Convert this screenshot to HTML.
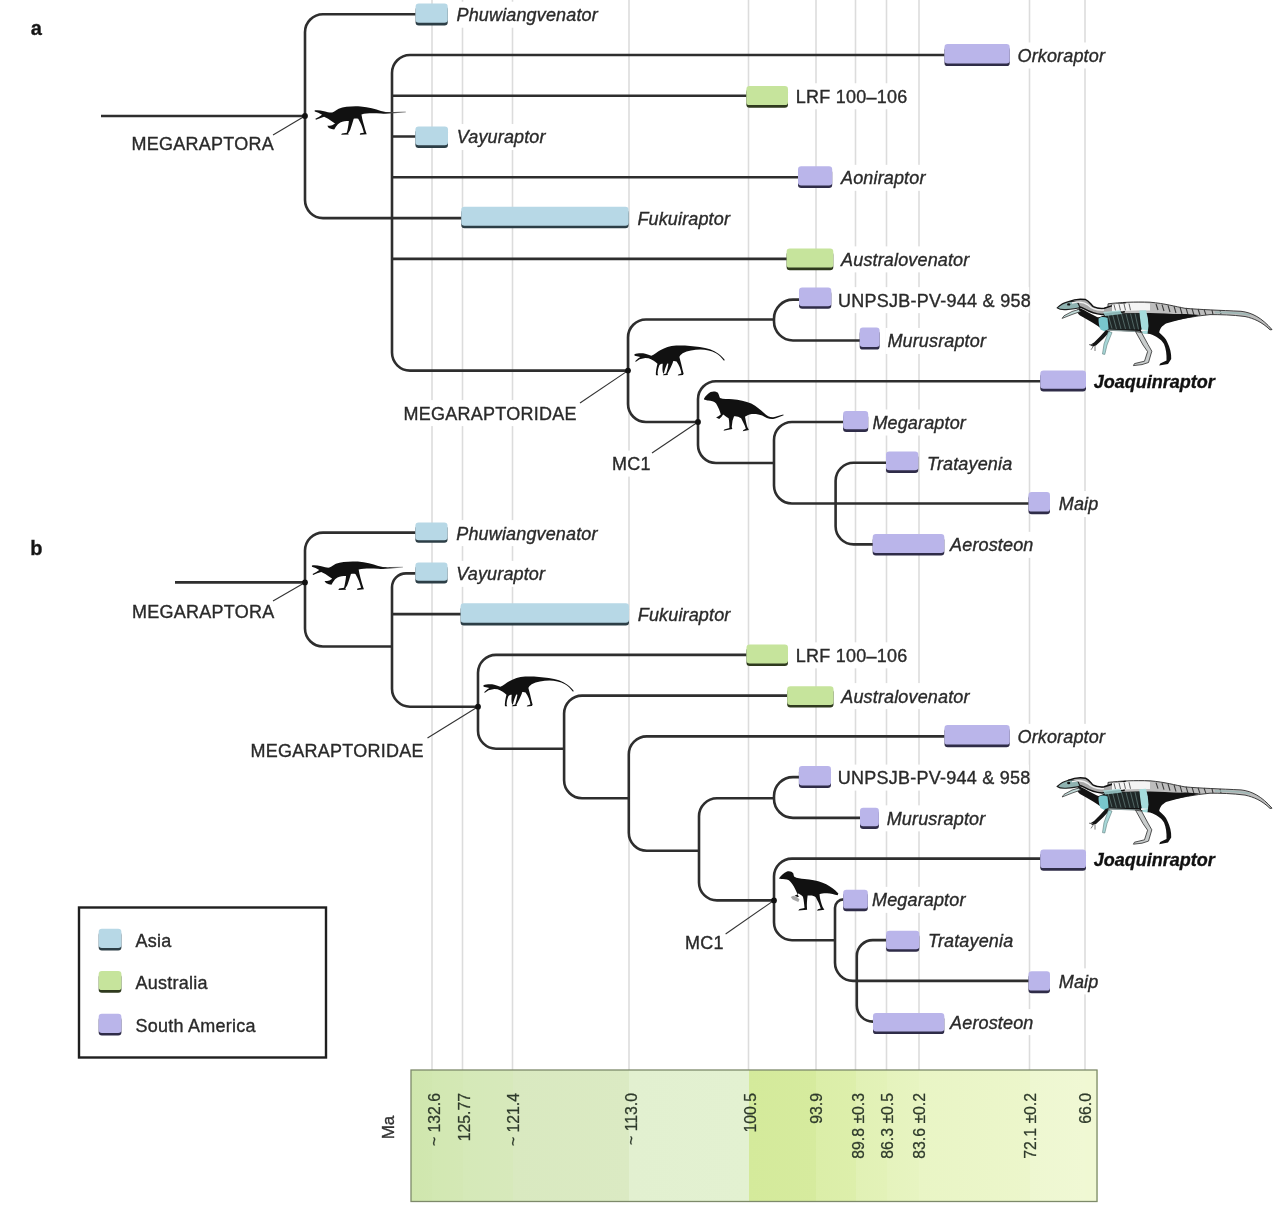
<!DOCTYPE html>
<html lang="en"><head><meta charset="utf-8"><title>Megaraptora phylogeny</title>
<style>html,body{margin:0;padding:0;background:#fff;}body{width:1280px;height:1230px;overflow:hidden;}svg{display:block;filter:blur(0.5px);}text{font-family:"Liberation Sans",Arial,Helvetica,sans-serif;font-size:18px;fill:#2a2a2a;stroke:#2a2a2a;stroke-width:0.35px;}.i{font-style:italic;letter-spacing:0.15px;}.r{letter-spacing:0.25px;}.b{font-style:italic;font-weight:bold;fill:#111;stroke:#111;}.t{font-size:15.8px;fill:#2e3a2b;stroke:#2e3a2b;stroke-width:0.25px;letter-spacing:0;}</style></head><body>
<svg width="1280" height="1230" viewBox="0 0 1280 1230">
<rect width="1280" height="1230" fill="#fff"/>
<line x1="432" y1="0" x2="432" y2="1070" stroke="#dcdcdc" stroke-width="1.6"/>
<line x1="462.5" y1="0" x2="462.5" y2="1070" stroke="#dcdcdc" stroke-width="1.6"/>
<line x1="512.5" y1="0" x2="512.5" y2="1070" stroke="#dcdcdc" stroke-width="1.6"/>
<line x1="629" y1="0" x2="629" y2="1070" stroke="#dcdcdc" stroke-width="1.6"/>
<line x1="748.5" y1="0" x2="748.5" y2="1070" stroke="#dcdcdc" stroke-width="1.6"/>
<line x1="816" y1="0" x2="816" y2="1070" stroke="#dcdcdc" stroke-width="1.6"/>
<line x1="855.5" y1="0" x2="855.5" y2="1070" stroke="#dcdcdc" stroke-width="1.6"/>
<line x1="886.5" y1="0" x2="886.5" y2="1070" stroke="#dcdcdc" stroke-width="1.6"/>
<line x1="919" y1="0" x2="919" y2="1070" stroke="#dcdcdc" stroke-width="1.6"/>
<line x1="1029.5" y1="0" x2="1029.5" y2="1070" stroke="#dcdcdc" stroke-width="1.6"/>
<line x1="1085" y1="0" x2="1085" y2="1070" stroke="#dcdcdc" stroke-width="1.6"/>
<rect x="129.5" y="130.6" width="144.67" height="26" fill="#fff"/>
<rect x="401.5" y="400.1" width="174.67" height="26" fill="#fff"/>
<rect x="610" y="450.6" width="43.02" height="26" fill="#fff"/>
<rect x="454.5" y="1.7" width="144.14" height="26" fill="#fff"/>
<rect x="1015.5" y="42.48" width="91.06" height="26" fill="#fff"/>
<rect x="793.8" y="83.26" width="114.12" height="26" fill="#fff"/>
<rect x="454.8" y="124.04" width="92.41" height="26" fill="#fff"/>
<rect x="839" y="164.82" width="88.08" height="26" fill="#fff"/>
<rect x="635.4" y="205.6" width="96.08" height="26" fill="#fff"/>
<rect x="839.1" y="246.38" width="131.11" height="26" fill="#fff"/>
<rect x="836.1" y="287.16" width="193.09" height="26" fill="#fff"/>
<rect x="885.4" y="327.94" width="102.08" height="26" fill="#fff"/>
<rect x="1091.8" y="368.72" width="126.05" height="26" fill="#fff"/>
<rect x="870.4" y="409.5" width="97.09" height="26" fill="#fff"/>
<rect x="925.1" y="450.28" width="88.75" height="26" fill="#fff"/>
<rect x="1056.8" y="491.06" width="44.03" height="26" fill="#fff"/>
<rect x="948.1" y="531.84" width="87.08" height="26" fill="#fff"/>
<rect x="130" y="598.6" width="144.67" height="26" fill="#fff"/>
<rect x="248.5" y="737.6" width="174.67" height="26" fill="#fff"/>
<rect x="683" y="929.3" width="43.02" height="26" fill="#fff"/>
<rect x="454.3" y="520.1" width="144.14" height="26" fill="#fff"/>
<rect x="454.3" y="560.85" width="92.41" height="26" fill="#fff"/>
<rect x="635.8" y="601.6" width="96.08" height="26" fill="#fff"/>
<rect x="793.8" y="642.35" width="114.12" height="26" fill="#fff"/>
<rect x="839.3" y="683.1" width="131.11" height="26" fill="#fff"/>
<rect x="1015.5" y="723.85" width="91.06" height="26" fill="#fff"/>
<rect x="835.8" y="764.6" width="193.09" height="26" fill="#fff"/>
<rect x="884.7" y="805.35" width="102.08" height="26" fill="#fff"/>
<rect x="1091.8" y="846.1" width="126.05" height="26" fill="#fff"/>
<rect x="870" y="886.85" width="97.09" height="26" fill="#fff"/>
<rect x="926.1" y="927.6" width="88.75" height="26" fill="#fff"/>
<rect x="1056.8" y="968.35" width="44.03" height="26" fill="#fff"/>
<rect x="948.1" y="1009.1" width="87.08" height="26" fill="#fff"/>
<defs>
<linearGradient id="g0" x1="0" x2="1" y1="0" y2="0"><stop offset="0" stop-color="#cfe6ad"/><stop offset="1" stop-color="#d1e7b0"/></linearGradient>
<linearGradient id="g1" x1="0" x2="1" y1="0" y2="0"><stop offset="0" stop-color="#d2e8b2"/><stop offset="1" stop-color="#d4e8b5"/></linearGradient>
<linearGradient id="g2" x1="0" x2="1" y1="0" y2="0"><stop offset="0" stop-color="#d5e9b8"/><stop offset="1" stop-color="#d7e9bb"/></linearGradient>
<linearGradient id="g3" x1="0" x2="1" y1="0" y2="0"><stop offset="0" stop-color="#d9e9c0"/><stop offset="1" stop-color="#dbeac3"/></linearGradient>
<linearGradient id="g4" x1="0" x2="1" y1="0" y2="0"><stop offset="0" stop-color="#e2f0d0"/><stop offset="1" stop-color="#e3f1d1"/></linearGradient>
<linearGradient id="g5" x1="0" x2="1" y1="0" y2="0"><stop offset="0" stop-color="#d4ea9b"/><stop offset="1" stop-color="#d6eb9e"/></linearGradient>
<linearGradient id="g6" x1="0" x2="1" y1="0" y2="0"><stop offset="0" stop-color="#dbeea8"/><stop offset="1" stop-color="#ddefab"/></linearGradient>
<linearGradient id="g7" x1="0" x2="1" y1="0" y2="0"><stop offset="0" stop-color="#e1f1b5"/><stop offset="1" stop-color="#e3f2b8"/></linearGradient>
<linearGradient id="g8" x1="0" x2="1" y1="0" y2="0"><stop offset="0" stop-color="#e5f3bd"/><stop offset="1" stop-color="#e7f4c1"/></linearGradient>
<linearGradient id="g9" x1="0" x2="1" y1="0" y2="0"><stop offset="0" stop-color="#e9f5c5"/><stop offset="1" stop-color="#ecf6cb"/></linearGradient>
<linearGradient id="g10" x1="0" x2="1" y1="0" y2="0"><stop offset="0" stop-color="#eef7d1"/><stop offset="1" stop-color="#f0f8d4"/></linearGradient>
<linearGradient id="g11" x1="0" x2="1" y1="0" y2="0"><stop offset="0" stop-color="#f0f8d3"/><stop offset="1" stop-color="#f0f8d3"/></linearGradient>
</defs>
<rect x="411" y="1070" width="21.6" height="131.5" fill="url(#g0)" shape-rendering="crispEdges"/>
<rect x="432" y="1070" width="31.1" height="131.5" fill="url(#g1)" shape-rendering="crispEdges"/>
<rect x="462.5" y="1070" width="50.6" height="131.5" fill="url(#g2)" shape-rendering="crispEdges"/>
<rect x="512.5" y="1070" width="117.1" height="131.5" fill="url(#g3)" shape-rendering="crispEdges"/>
<rect x="629" y="1070" width="120.1" height="131.5" fill="url(#g4)" shape-rendering="crispEdges"/>
<rect x="748.5" y="1070" width="68.1" height="131.5" fill="url(#g5)" shape-rendering="crispEdges"/>
<rect x="816" y="1070" width="40.1" height="131.5" fill="url(#g6)" shape-rendering="crispEdges"/>
<rect x="855.5" y="1070" width="31.6" height="131.5" fill="url(#g7)" shape-rendering="crispEdges"/>
<rect x="886.5" y="1070" width="33.1" height="131.5" fill="url(#g8)" shape-rendering="crispEdges"/>
<rect x="919" y="1070" width="111.1" height="131.5" fill="url(#g9)" shape-rendering="crispEdges"/>
<rect x="1029.5" y="1070" width="56.1" height="131.5" fill="url(#g10)" shape-rendering="crispEdges"/>
<rect x="1085" y="1070" width="12.6" height="131.5" fill="url(#g11)" shape-rendering="crispEdges"/>
<rect x="411" y="1070" width="686" height="131.5" fill="none" stroke="#7d8a6a" stroke-width="1.3"/>
<text class="t" text-anchor="end" transform="translate(440.2,1093) rotate(-90) scale(1,1.06)">~ 132.6</text>
<text class="t" text-anchor="end" transform="translate(469.7,1093) rotate(-90) scale(1,1.06)">125.77</text>
<text class="t" text-anchor="end" transform="translate(519.3,1093) rotate(-90) scale(1,1.06)">~ 121.4</text>
<text class="t" text-anchor="end" transform="translate(636.7,1093) rotate(-90) scale(1,1.06)">~ 113.0</text>
<text class="t" text-anchor="end" transform="translate(755.7,1093) rotate(-90) scale(1,1.06)">100.5</text>
<text class="t" text-anchor="end" transform="translate(822.2,1093) rotate(-90) scale(1,1.06)">93.9</text>
<text class="t" text-anchor="end" transform="translate(863.7,1093) rotate(-90) scale(1,1.06)">89.8 ±0.3</text>
<text class="t" text-anchor="end" transform="translate(892.7,1093) rotate(-90) scale(1,1.06)">86.3 ±0.5</text>
<text class="t" text-anchor="end" transform="translate(925.2,1093) rotate(-90) scale(1,1.06)">83.6 ±0.2</text>
<text class="t" text-anchor="end" transform="translate(1035.7,1093) rotate(-90) scale(1,1.06)">72.1 ±0.2</text>
<text class="t" text-anchor="end" transform="translate(1091.2,1093) rotate(-90) scale(1,1.06)">66.0</text>
<text text-anchor="middle" style="font-size:17px;fill:#333" transform="translate(394,1127.5) rotate(-90)">Ma</text>
<rect x="79" y="907.5" width="247" height="150" fill="#fff" stroke="#1f1f1f" stroke-width="2.4"/>
<path d="M101,116 H305 M415.5,14.2 H323 A18,18 0 0 0 305,32.2 V200.1 A18,18 0 0 0 323,218.1 H461.5 M944.5,54.98 H410 A18,18 0 0 0 392,72.98 V352.6 A18,18 0 0 0 410,370.6 H628 M392,95.76 H746.5 M392,136.54 H415.5 M392,177.32 H798 M392,258.88 H787 M774,319.5 H646 A18,18 0 0 0 628,337.5 V404 A18,18 0 0 0 646,422 H698 M799,299.66 H793 A19,19 0 0 0 774,318.66 V321.44 A19,19 0 0 0 793,340.44 H860 M1040.5,381.22 H716 A18,18 0 0 0 698,399.22 V445 A18,18 0 0 0 716,463 H774 M843,422 H792 A18,18 0 0 0 774,440 V485.56 A18,18 0 0 0 792,503.56 H1029 M887,462.78 H853.6 A18,18 0 0 0 835.6,480.78 V526.34 A18,18 0 0 0 853.6,544.34 H873.5 M175,582.4 H305 M415.5,532.6 H323 A18,18 0 0 0 305,550.6 V628.5 A18,18 0 0 0 323,646.5 H392 M415.5,573.35 H406 A14,14 0 0 0 392,587.35 V688.7 A18,18 0 0 0 410,706.7 H478 M392,614.1 H461.5 M746.5,654.85 H496 A18,18 0 0 0 478,672.85 V730.7 A18,18 0 0 0 496,748.7 H564 M787,695.6 H582.1 A18,18 0 0 0 564.1,713.6 V780.3 A18,18 0 0 0 582.1,798.3 H628.8 M944.5,736.35 H646.8 A18,18 0 0 0 628.8,754.35 V832.8 A18,18 0 0 0 646.8,850.8 H699 M774,798.3 H717 A18,18 0 0 0 699,816.3 V882.4 A18,18 0 0 0 717,900.4 H774 M799,777.1 H793 A19,19 0 0 0 774,796.1 V798.85 A19,19 0 0 0 793,817.85 H860 M1040.5,858.6 H792 A18,18 0 0 0 774,876.6 V922.2 A18,18 0 0 0 792,940.2 H835 M844,899.35 H843.5 A8.5,8.5 0 0 0 835,907.85 V962.85 A18,18 0 0 0 853,980.85 H1029 M887,940.1 H872.8 A16,16 0 0 0 856.8,956.1 V1005.6 A16,16 0 0 0 872.8,1021.6 H873.5" fill="none" stroke="#2e2e2e" stroke-width="2.6" stroke-linecap="butt"/>
<line x1="273" y1="135" x2="305" y2="116" stroke="#333" stroke-width="1.1"/>
<line x1="580" y1="403" x2="628" y2="370.6" stroke="#333" stroke-width="1.1"/>
<line x1="652" y1="453" x2="698" y2="422" stroke="#333" stroke-width="1.1"/>
<line x1="273" y1="601" x2="305" y2="582.4" stroke="#333" stroke-width="1.1"/>
<line x1="427.5" y1="738" x2="478" y2="706.7" stroke="#333" stroke-width="1.1"/>
<line x1="725.6" y1="934" x2="774" y2="900.4" stroke="#333" stroke-width="1.1"/>
<circle cx="305" cy="116" r="2.9" fill="#111"/>
<circle cx="628" cy="370.6" r="2.9" fill="#111"/>
<circle cx="698" cy="422" r="2.9" fill="#111"/>
<circle cx="305" cy="582.4" r="2.9" fill="#111"/>
<circle cx="478" cy="706.7" r="2.9" fill="#111"/>
<circle cx="774" cy="900.4" r="2.9" fill="#111"/>
<rect x="415.6" y="6.5" width="32.1" height="18.9" rx="3.2" fill="#2c3e46"/>
<rect x="415.6" y="3.5" width="32.1" height="19.3" rx="3.2" fill="#b7d8e6"/>
<rect x="944.5" y="47.1" width="65.2" height="19" rx="3.2" fill="#2f2c48"/>
<rect x="944.5" y="44.1" width="65.2" height="19.4" rx="3.2" fill="#bab5ea"/>
<rect x="746.4" y="89.1" width="41.6" height="18.6" rx="3.2" fill="#2f3a1e"/>
<rect x="746.4" y="86.1" width="41.6" height="19" rx="3.2" fill="#c6e49c"/>
<rect x="415.4" y="129.4" width="32.6" height="18.5" rx="3.2" fill="#2c3e46"/>
<rect x="415.4" y="126.4" width="32.6" height="18.9" rx="3.2" fill="#b7d8e6"/>
<rect x="798" y="169.2" width="34.2" height="18.8" rx="3.2" fill="#2f2c48"/>
<rect x="798" y="166.2" width="34.2" height="19.2" rx="3.2" fill="#bab5ea"/>
<rect x="461.3" y="209.8" width="167.3" height="18.5" rx="3.2" fill="#2c3e46"/>
<rect x="461.3" y="206.8" width="167.3" height="18.9" rx="3.2" fill="#b7d8e6"/>
<rect x="786.6" y="251.6" width="46.7" height="18.6" rx="3.2" fill="#2f3a1e"/>
<rect x="786.6" y="248.6" width="46.7" height="19" rx="3.2" fill="#c6e49c"/>
<rect x="799" y="290.6" width="32.3" height="18.2" rx="3.2" fill="#2f2c48"/>
<rect x="799" y="287.6" width="32.3" height="18.6" rx="3.2" fill="#bab5ea"/>
<rect x="859.7" y="330.6" width="19.9" height="19" rx="3.2" fill="#2f2c48"/>
<rect x="859.7" y="327.6" width="19.9" height="19.4" rx="3.2" fill="#bab5ea"/>
<rect x="1040.3" y="373.5" width="45.7" height="17.9" rx="3.2" fill="#2f2c48"/>
<rect x="1040.3" y="370.5" width="45.7" height="18.3" rx="3.2" fill="#bab5ea"/>
<rect x="843.1" y="414.1" width="25.1" height="17.8" rx="3.2" fill="#2f2c48"/>
<rect x="843.1" y="411.1" width="25.1" height="18.2" rx="3.2" fill="#bab5ea"/>
<rect x="886" y="454.4" width="32.3" height="18.5" rx="3.2" fill="#2f2c48"/>
<rect x="886" y="451.4" width="32.3" height="18.9" rx="3.2" fill="#bab5ea"/>
<rect x="1028.5" y="495" width="21.5" height="19.2" rx="3.2" fill="#2f2c48"/>
<rect x="1028.5" y="492" width="21.5" height="19.6" rx="3.2" fill="#bab5ea"/>
<rect x="872.7" y="537" width="71.6" height="18.5" rx="3.2" fill="#2f2c48"/>
<rect x="872.7" y="534" width="71.6" height="18.9" rx="3.2" fill="#bab5ea"/>
<rect x="415.4" y="525.4" width="32.1" height="17.4" rx="3.2" fill="#2c3e46"/>
<rect x="415.4" y="522.4" width="32.1" height="17.8" rx="3.2" fill="#b7d8e6"/>
<rect x="415.4" y="565.6" width="32.1" height="17.8" rx="3.2" fill="#2c3e46"/>
<rect x="415.4" y="562.6" width="32.1" height="18.2" rx="3.2" fill="#b7d8e6"/>
<rect x="460.6" y="606.2" width="168.4" height="19.2" rx="3.2" fill="#2c3e46"/>
<rect x="460.6" y="603.2" width="168.4" height="19.6" rx="3.2" fill="#b7d8e6"/>
<rect x="746.5" y="647.6" width="41.5" height="18.4" rx="3.2" fill="#2f3a1e"/>
<rect x="746.5" y="644.6" width="41.5" height="18.8" rx="3.2" fill="#c6e49c"/>
<rect x="787.2" y="689.3" width="46.3" height="18.2" rx="3.2" fill="#2f3a1e"/>
<rect x="787.2" y="686.3" width="46.3" height="18.6" rx="3.2" fill="#c6e49c"/>
<rect x="944.5" y="728" width="65.2" height="19.2" rx="3.2" fill="#2f2c48"/>
<rect x="944.5" y="725" width="65.2" height="19.6" rx="3.2" fill="#bab5ea"/>
<rect x="798.9" y="769" width="32.1" height="19" rx="3.2" fill="#2f2c48"/>
<rect x="798.9" y="766" width="32.1" height="19.4" rx="3.2" fill="#bab5ea"/>
<rect x="860" y="810.8" width="18.9" height="18.1" rx="3.2" fill="#2f2c48"/>
<rect x="860" y="807.8" width="18.9" height="18.5" rx="3.2" fill="#bab5ea"/>
<rect x="1040.3" y="852.4" width="45.7" height="18.3" rx="3.2" fill="#2f2c48"/>
<rect x="1040.3" y="849.4" width="45.7" height="18.7" rx="3.2" fill="#bab5ea"/>
<rect x="843.2" y="892.8" width="24.6" height="18.4" rx="3.2" fill="#2f2c48"/>
<rect x="843.2" y="889.8" width="24.6" height="18.8" rx="3.2" fill="#bab5ea"/>
<rect x="886.1" y="933.7" width="33.2" height="18.1" rx="3.2" fill="#2f2c48"/>
<rect x="886.1" y="930.7" width="33.2" height="18.5" rx="3.2" fill="#bab5ea"/>
<rect x="1028.5" y="974.3" width="21.5" height="18.9" rx="3.2" fill="#2f2c48"/>
<rect x="1028.5" y="971.3" width="21.5" height="19.3" rx="3.2" fill="#bab5ea"/>
<rect x="873" y="1016" width="71.3" height="18.1" rx="3.2" fill="#2f2c48"/>
<rect x="873" y="1013" width="71.3" height="18.5" rx="3.2" fill="#bab5ea"/>
<rect x="98.7" y="931.7" width="22.7" height="18.8" rx="3.2" fill="#2c3e46"/>
<rect x="98.7" y="928.7" width="22.7" height="19.2" rx="3.2" fill="#b7d8e6"/>
<rect x="98.7" y="973.9" width="22.7" height="18.8" rx="3.2" fill="#2f3a1e"/>
<rect x="98.7" y="970.9" width="22.7" height="19.2" rx="3.2" fill="#c6e49c"/>
<rect x="98.7" y="1016.7" width="22.7" height="18.8" rx="3.2" fill="#2f2c48"/>
<rect x="98.7" y="1013.7" width="22.7" height="19.2" rx="3.2" fill="#bab5ea"/>
<text transform="translate(131.5,150) scale(1,1.04)" class="r">MEGARAPTORA</text>
<text transform="translate(403.5,419.5) scale(1,1.04)" class="r">MEGARAPTORIDAE</text>
<text transform="translate(612,470) scale(1,1.04)" class="r">MC1</text>
<text x="456.5" y="21.1" class="i">Phuwiangvenator</text>
<text x="1017.5" y="61.88" class="i">Orkoraptor</text>
<text transform="translate(795.8,102.66) scale(1,1.04)" class="r">LRF 100–106</text>
<text x="456.8" y="143.44" class="i">Vayuraptor</text>
<text x="841" y="184.22" class="i">Aoniraptor</text>
<text x="637.4" y="225" class="i">Fukuiraptor</text>
<text x="841.1" y="265.78" class="i">Australovenator</text>
<text transform="translate(838.1,306.56) scale(1,1.04)" class="r">UNPSJB-PV-944 &amp; 958</text>
<text x="887.4" y="347.34" class="i">Murusraptor</text>
<text x="1093.8" y="388.12" class="b">Joaquinraptor</text>
<text x="872.4" y="428.9" class="i">Megaraptor</text>
<text x="927.1" y="469.68" class="i">Tratayenia</text>
<text x="1058.8" y="510.46" class="i">Maip</text>
<text x="950.1" y="551.24" class="i">Aerosteon</text>
<text transform="translate(132,618) scale(1,1.04)" class="r">MEGARAPTORA</text>
<text transform="translate(250.5,757) scale(1,1.04)" class="r">MEGARAPTORIDAE</text>
<text transform="translate(685,948.7) scale(1,1.04)" class="r">MC1</text>
<text x="456.3" y="539.5" class="i">Phuwiangvenator</text>
<text x="456.3" y="580.25" class="i">Vayuraptor</text>
<text x="637.8" y="621" class="i">Fukuiraptor</text>
<text transform="translate(795.8,661.75) scale(1,1.04)" class="r">LRF 100–106</text>
<text x="841.3" y="702.5" class="i">Australovenator</text>
<text x="1017.5" y="743.25" class="i">Orkoraptor</text>
<text transform="translate(837.8,784) scale(1,1.04)" class="r">UNPSJB-PV-944 &amp; 958</text>
<text x="886.7" y="824.75" class="i">Murusraptor</text>
<text x="1093.8" y="865.5" class="b">Joaquinraptor</text>
<text x="872" y="906.25" class="i">Megaraptor</text>
<text x="928.1" y="947" class="i">Tratayenia</text>
<text x="1058.8" y="987.75" class="i">Maip</text>
<text x="950.1" y="1028.5" class="i">Aerosteon</text>
<text transform="translate(135.5,946.5) scale(1,1.04)" class="r">Asia</text>
<text transform="translate(135.5,988.7) scale(1,1.04)" class="r">Australia</text>
<text transform="translate(135.5,1031.5) scale(1,1.04)" class="r">South America</text>
<text x="30.8" y="35" style="font-weight:bold;font-size:20px;fill:#151515">a</text>
<text x="30.2" y="555" style="font-weight:bold;font-size:20px;fill:#151515">b</text>
<defs><linearGradient id="tailg" x1="0" x2="1" y1="0" y2="0"><stop offset="0" stop-color="#111"/><stop offset="0.76" stop-color="#111"/><stop offset="1" stop-color="#9a9a9a"/></linearGradient></defs>
<path d="M85,165 C120,160 160,165 200,175 C240,185 270,195 300,192 C330,180 350,160 380,145 C450,120 550,112 650,118 C750,125 830,150 900,172 C950,185 1000,188 1060,185 L1205,180 L1205,192 L1060,202 C1000,208 950,210 900,205 C800,200 720,200 660,215 C670,280 690,340 705,400 L718,440 L725,458 L640,466 L645,448 L690,440 C675,380 650,320 620,270 C600,265 580,265 565,270 C550,320 535,370 520,410 L495,450 L505,463 L410,466 L420,450 L480,440 C490,400 500,350 505,295 C470,295 430,300 400,315 L370,335 L345,368 L325,402 L292,396 L258,382 L240,356 L272,356 L300,350 L335,328 C310,310 280,290 250,270 L200,245 L150,262 L100,282 L93,270 L140,245 L175,220 L130,196 L85,180 Z" fill="url(#tailg)" transform="translate(307.8,96.9) scale(0.0813)"/>
<path d="M85,165 C120,160 160,165 200,175 C240,185 270,195 300,192 C330,180 350,160 380,145 C450,120 550,112 650,118 C750,125 830,150 900,172 C950,185 1000,188 1060,185 L1205,180 L1205,192 L1060,202 C1000,208 950,210 900,205 C800,200 720,200 660,215 C670,280 690,340 705,400 L718,440 L725,458 L640,466 L645,448 L690,440 C675,380 650,320 620,270 C600,265 580,265 565,270 C550,320 535,370 520,410 L495,450 L505,463 L410,466 L420,450 L480,440 C490,400 500,350 505,295 C470,295 430,300 400,315 L370,335 L345,368 L325,402 L292,396 L258,382 L240,356 L272,356 L300,350 L335,328 C310,310 280,290 250,270 L200,245 L150,262 L100,282 L93,270 L140,245 L175,220 L130,196 L85,180 Z" fill="url(#tailg)" transform="translate(305,552) scale(0.0813)"/>
<path d="M65,215 C100,200 150,198 200,205 C230,210 250,222 275,232 C310,215 345,185 390,160 C440,132 500,110 580,104 C680,100 780,110 870,122 C960,132 1040,160 1100,205 C1140,235 1165,260 1180,285 L1165,290 C1140,255 1110,225 1070,200 C1010,170 950,158 880,155 C800,155 720,170 660,200 C640,215 625,230 620,245 C635,300 650,360 660,410 L672,452 L662,468 L600,475 L606,460 L645,448 C640,400 615,340 585,300 C570,295 555,292 545,295 C535,330 515,370 495,410 L472,455 L480,468 L418,472 L425,458 L458,448 C470,410 480,370 485,330 L470,325 C455,360 440,400 430,445 L420,450 C410,420 410,380 415,330 C400,330 385,335 375,345 C360,380 350,420 352,455 L360,470 L335,472 L330,460 C330,420 340,370 350,330 C320,300 280,275 240,262 L200,258 L130,275 L85,305 L75,298 L115,260 L140,245 L70,232 Z" fill="#111" transform="translate(629,337) scale(0.0813)"/>
<path d="M65,215 C100,200 150,198 200,205 C230,210 250,222 275,232 C310,215 345,185 390,160 C440,132 500,110 580,104 C680,100 780,110 870,122 C960,132 1040,160 1100,205 C1140,235 1165,260 1180,285 L1165,290 C1140,255 1110,225 1070,200 C1010,170 950,158 880,155 C800,155 720,170 660,200 C640,215 625,230 620,245 C635,300 650,360 660,410 L672,452 L662,468 L600,475 L606,460 L645,448 C640,400 615,340 585,300 C570,295 555,292 545,295 C535,330 515,370 495,410 L472,455 L480,468 L418,472 L425,458 L458,448 C470,410 480,370 485,330 L470,325 C455,360 440,400 430,445 L420,450 C410,420 410,380 415,330 C400,330 385,335 375,345 C360,380 350,420 352,455 L360,470 L335,472 L330,460 C330,420 340,370 350,330 C320,300 280,275 240,262 L200,258 L130,275 L85,305 L75,298 L115,260 L140,245 L70,232 Z" fill="#111" transform="translate(478,668) scale(0.0813)"/>
<path d="M110,262 C140,220 190,170 240,150 C280,140 320,150 340,180 L352,232 C400,262 460,268 520,272 C620,280 720,300 810,330 C890,360 960,410 1010,450 L1062,505 L1050,532 C1000,520 940,505 880,500 C830,498 790,505 760,515 C765,590 790,660 810,720 L838,762 L720,780 L735,755 L780,742 C760,680 730,620 700,565 C680,545 650,535 610,535 L570,535 C560,600 555,680 560,740 L562,762 L420,776 L440,750 L520,735 C515,680 510,610 495,555 L470,530 C450,520 435,510 425,505 L395,525 L360,540 L410,560 L430,560 C410,520 390,470 370,430 C340,370 310,320 270,290 C230,275 180,275 150,272 Z" fill="#111" transform="translate(772,862) scale(0.0625)"/>
<path d="M300,560 L340,540 L400,560 L440,600 L420,640 L330,600 Z" fill="#888" opacity="0.75" transform="translate(772,862) scale(0.0625)"/>
<path d="M115,240 C130,210 170,175 200,155 C230,140 270,145 290,160 C305,180 310,210 320,230 C360,245 420,242 480,245 C560,250 650,270 720,300 C790,340 840,380 880,420 C920,460 960,480 1000,478 C1040,470 1080,450 1130,440 L1135,452 C1090,465 1050,490 1000,500 C950,505 900,480 860,455 C820,440 760,430 700,440 C670,450 650,460 640,470 C650,520 660,570 670,600 L690,640 L610,655 L620,640 L650,625 C640,580 610,530 590,490 C560,470 530,460 500,465 L480,520 L470,600 L478,628 L365,650 L375,632 L440,615 C440,580 440,530 430,490 C400,470 380,450 360,440 L340,470 L310,500 L270,480 L300,465 L330,440 C320,400 300,350 270,300 C240,270 200,260 160,262 L115,250 Z" fill="#111" transform="translate(695,380) scale(0.078125)"/>
<g transform="translate(0,0)"><path fill="#bdbdbd" stroke="#2a2a2a" stroke-width="0.9" d="M1108,303.8 C1120,302.4 1135,301.6 1150,302.2 C1165,303.5 1175,306.5 1185,308.3 C1200,309.6 1220,310.3 1241,311.3 C1252,312.5 1262,318 1272,329.6 L1270,329.8 C1262,322 1254,318.5 1245,316.5 C1232,314.8 1220,314.6 1210,314.6 C1195,316 1180,319 1165,322 L1150,317 L1108,314 Z"/><path fill="none" stroke="#3a3a3a" stroke-width="1.1" d="M1156,304 L1158,310 M1162,304.6 L1164,311 M1168,305.4 L1170,312 M1174,306.2 L1176,313 M1180,307 L1182,314 M1186,308 L1188,314.6 M1192,308.6 L1194,315 M1198,309 L1200,315 M1204,309.4 L1206,315 M1212,310 L1213,314.6 M1220,310.3 L1221,314.2 M1112,303.8 L1114,309 M1118,303.2 L1120,309 M1124,302.8 L1126,308.6"/><path fill="none" stroke="#9fb8b6" stroke-width="1.6" d="M1215,312.4 C1228,312.2 1240,312.6 1250,315"/><path fill="#121212" d="M1079.6,308 C1086,311 1092,314.5 1097,317 C1100,318.5 1104,314.5 1108,313.5 L1150,313 C1160,313.2 1172,314.2 1186,314 L1200,315 C1190,317.5 1178,320 1166,323.4 C1162,326 1160,328 1159.2,332.5 C1163,336 1166,338.5 1167.2,342 C1170,348 1171.5,353 1171.2,359 L1168,364 L1159.2,365.6 L1160.2,363.4 L1166.5,360.5 C1166.8,354 1166,349 1164,344 C1161,339 1156,336 1150,334 L1142.6,333 L1139.7,331.7 L1108.4,330.6 C1104,330 1100,328 1097,325.5 C1092,322 1086,319 1080,315.5 C1076,312 1076,309.5 1079.6,308 Z"/><path fill="#a9a9a9" stroke="#111" stroke-width="1.5" d="M1068.7,301.6 C1074,299.3 1080,298.6 1085.6,299.6 C1089,301 1091,304.5 1093.3,306.6 C1097,308.4 1101,308.6 1104.2,308.2 C1110,306 1116,304.2 1125,303 L1124,312 C1116,312.5 1108,313.5 1102,314.4 C1096,314 1090,312 1084.5,308.8 C1080,306.5 1074,305.5 1070,305.2 Z"/><path fill="#8fb3b1" stroke="#1a1a1a" stroke-width="1.1" d="M1057.2,307.9 C1060,305 1064,302.6 1068.7,301.6 C1072,301.2 1075,301.5 1078,303 L1080,307.5 C1076,308.6 1071,309.2 1066,309.6 C1062,309.8 1059,309.3 1057.2,307.9 Z"/><ellipse cx="1068.7" cy="304.4" rx="1.6" ry="1.2" fill="#111"/><path fill="#c3dcda" stroke="#3a3a3a" stroke-width="0.8" d="M1062.1,318.4 L1064,315.8 L1072,311.5 L1078.5,309.5 L1080.5,311.5 L1072,314.5 Z"/><path fill="#f4f4f4" d="M1112,304.5 C1125,303 1138,302.6 1150,303.4 L1150,310.5 C1138,310.4 1125,310.8 1112,311.5 Z"/><path fill="none" stroke="#555" stroke-width="0.9" d="M1114,304.6 L1115.5,310.5 M1119,304.2 L1120.5,310.4 M1124,303.8 L1125.5,310.3 M1129,303.6 L1130.5,310.2"/><path fill="none" stroke="#f0f0f0" stroke-width="1.4" d="M1072,303 C1078,301.5 1084,302 1088,305 C1092,309 1097,310.5 1104,310"/><path fill="#1f2727" d="M1104.5,314.5 L1139.7,313 L1139.7,329.5 L1108.4,329.4 C1105.5,326 1104.5,320 1104.5,314.5 Z"/><path fill="none" stroke="#5f7775" stroke-width="0.8" d="M1108,314.5 L1112,328.5 M1112.5,314.3 L1116.5,329 M1117,314.1 L1121,329 M1121.5,314 L1125.5,329 M1126,313.8 L1130,329.2 M1130.5,313.6 L1134.5,329.3 M1135,313.4 L1138.5,329.4"/><path fill="none" stroke="#8a9a9a" stroke-width="1.2" d="M1108.4,330.2 L1139.7,331.6"/><path fill="#78c6cc" d="M1098.6,318.4 C1101,316.5 1104.5,316.5 1107.5,318 L1108.6,329 L1105,331.6 L1100.5,329.5 C1099,326 1098.3,322 1098.6,318.4 Z"/><path fill="#a9dcdc" d="M1103,312 L1120,310.2 L1122,314 L1105,316 Z" opacity="0.8"/><path fill="#151515" d="M1106,330 L1110,331.5 L1103,339 L1096,345.5 L1092.5,346.5 L1090,345 L1094,342.5 L1100,336.5 Z"/><path fill="none" stroke="#6a6a6a" stroke-width="0.9" d="M1093,345 L1089,344.6 M1093.5,346 L1091,349.8 M1095,346 L1095,351"/><path fill="#a8d8d8" stroke="#5c7c7c" stroke-width="0.6" d="M1108.5,331.5 L1112,332.5 L1107,345 L1104.8,354.4 L1102.5,354 L1104,344 Z"/><path fill="#a6dcdc" d="M1139.3,310.6 L1146,310.2 L1147.8,318 L1148.5,326 L1147.5,334 L1142.5,333.5 L1141,326 L1140,318 Z"/><path fill="#f2f2f2" d="M1141,329.6 L1148.5,330.2 L1141,331.6 Z"/><path fill="#c8cccc" stroke="#2a2a2a" stroke-width="0.8" d="M1135.5,331.5 L1141.5,332.5 L1148,344.5 L1151.8,351.2 L1148.5,362.5 L1142,364.6 L1133.4,365.6 L1134.5,363.6 L1144.5,361.2 L1147.6,351.6 L1143,345 Z"/></g>
<g transform="translate(0,478.6)"><path fill="#bdbdbd" stroke="#2a2a2a" stroke-width="0.9" d="M1108,303.8 C1120,302.4 1135,301.6 1150,302.2 C1165,303.5 1175,306.5 1185,308.3 C1200,309.6 1220,310.3 1241,311.3 C1252,312.5 1262,318 1272,329.6 L1270,329.8 C1262,322 1254,318.5 1245,316.5 C1232,314.8 1220,314.6 1210,314.6 C1195,316 1180,319 1165,322 L1150,317 L1108,314 Z"/><path fill="none" stroke="#3a3a3a" stroke-width="1.1" d="M1156,304 L1158,310 M1162,304.6 L1164,311 M1168,305.4 L1170,312 M1174,306.2 L1176,313 M1180,307 L1182,314 M1186,308 L1188,314.6 M1192,308.6 L1194,315 M1198,309 L1200,315 M1204,309.4 L1206,315 M1212,310 L1213,314.6 M1220,310.3 L1221,314.2 M1112,303.8 L1114,309 M1118,303.2 L1120,309 M1124,302.8 L1126,308.6"/><path fill="none" stroke="#9fb8b6" stroke-width="1.6" d="M1215,312.4 C1228,312.2 1240,312.6 1250,315"/><path fill="#121212" d="M1079.6,308 C1086,311 1092,314.5 1097,317 C1100,318.5 1104,314.5 1108,313.5 L1150,313 C1160,313.2 1172,314.2 1186,314 L1200,315 C1190,317.5 1178,320 1166,323.4 C1162,326 1160,328 1159.2,332.5 C1163,336 1166,338.5 1167.2,342 C1170,348 1171.5,353 1171.2,359 L1168,364 L1159.2,365.6 L1160.2,363.4 L1166.5,360.5 C1166.8,354 1166,349 1164,344 C1161,339 1156,336 1150,334 L1142.6,333 L1139.7,331.7 L1108.4,330.6 C1104,330 1100,328 1097,325.5 C1092,322 1086,319 1080,315.5 C1076,312 1076,309.5 1079.6,308 Z"/><path fill="#a9a9a9" stroke="#111" stroke-width="1.5" d="M1068.7,301.6 C1074,299.3 1080,298.6 1085.6,299.6 C1089,301 1091,304.5 1093.3,306.6 C1097,308.4 1101,308.6 1104.2,308.2 C1110,306 1116,304.2 1125,303 L1124,312 C1116,312.5 1108,313.5 1102,314.4 C1096,314 1090,312 1084.5,308.8 C1080,306.5 1074,305.5 1070,305.2 Z"/><path fill="#8fb3b1" stroke="#1a1a1a" stroke-width="1.1" d="M1057.2,307.9 C1060,305 1064,302.6 1068.7,301.6 C1072,301.2 1075,301.5 1078,303 L1080,307.5 C1076,308.6 1071,309.2 1066,309.6 C1062,309.8 1059,309.3 1057.2,307.9 Z"/><ellipse cx="1068.7" cy="304.4" rx="1.6" ry="1.2" fill="#111"/><path fill="#c3dcda" stroke="#3a3a3a" stroke-width="0.8" d="M1062.1,318.4 L1064,315.8 L1072,311.5 L1078.5,309.5 L1080.5,311.5 L1072,314.5 Z"/><path fill="#f4f4f4" d="M1112,304.5 C1125,303 1138,302.6 1150,303.4 L1150,310.5 C1138,310.4 1125,310.8 1112,311.5 Z"/><path fill="none" stroke="#555" stroke-width="0.9" d="M1114,304.6 L1115.5,310.5 M1119,304.2 L1120.5,310.4 M1124,303.8 L1125.5,310.3 M1129,303.6 L1130.5,310.2"/><path fill="none" stroke="#f0f0f0" stroke-width="1.4" d="M1072,303 C1078,301.5 1084,302 1088,305 C1092,309 1097,310.5 1104,310"/><path fill="#1f2727" d="M1104.5,314.5 L1139.7,313 L1139.7,329.5 L1108.4,329.4 C1105.5,326 1104.5,320 1104.5,314.5 Z"/><path fill="none" stroke="#5f7775" stroke-width="0.8" d="M1108,314.5 L1112,328.5 M1112.5,314.3 L1116.5,329 M1117,314.1 L1121,329 M1121.5,314 L1125.5,329 M1126,313.8 L1130,329.2 M1130.5,313.6 L1134.5,329.3 M1135,313.4 L1138.5,329.4"/><path fill="none" stroke="#8a9a9a" stroke-width="1.2" d="M1108.4,330.2 L1139.7,331.6"/><path fill="#78c6cc" d="M1098.6,318.4 C1101,316.5 1104.5,316.5 1107.5,318 L1108.6,329 L1105,331.6 L1100.5,329.5 C1099,326 1098.3,322 1098.6,318.4 Z"/><path fill="#a9dcdc" d="M1103,312 L1120,310.2 L1122,314 L1105,316 Z" opacity="0.8"/><path fill="#151515" d="M1106,330 L1110,331.5 L1103,339 L1096,345.5 L1092.5,346.5 L1090,345 L1094,342.5 L1100,336.5 Z"/><path fill="none" stroke="#6a6a6a" stroke-width="0.9" d="M1093,345 L1089,344.6 M1093.5,346 L1091,349.8 M1095,346 L1095,351"/><path fill="#a8d8d8" stroke="#5c7c7c" stroke-width="0.6" d="M1108.5,331.5 L1112,332.5 L1107,345 L1104.8,354.4 L1102.5,354 L1104,344 Z"/><path fill="#a6dcdc" d="M1139.3,310.6 L1146,310.2 L1147.8,318 L1148.5,326 L1147.5,334 L1142.5,333.5 L1141,326 L1140,318 Z"/><path fill="#f2f2f2" d="M1141,329.6 L1148.5,330.2 L1141,331.6 Z"/><path fill="#c8cccc" stroke="#2a2a2a" stroke-width="0.8" d="M1135.5,331.5 L1141.5,332.5 L1148,344.5 L1151.8,351.2 L1148.5,362.5 L1142,364.6 L1133.4,365.6 L1134.5,363.6 L1144.5,361.2 L1147.6,351.6 L1143,345 Z"/></g>
</svg></body></html>
